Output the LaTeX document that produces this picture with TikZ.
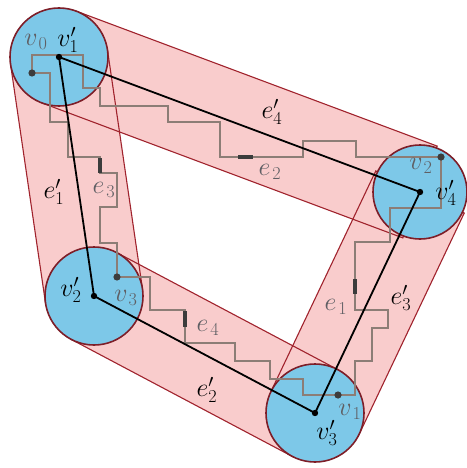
\RequirePackage{fix-cm}
\documentclass[tikz,border=0pt]{standalone}
\usetikzlibrary{calc}
\definecolor{bandfill}{RGB}{249,204,204}
\definecolor{bandline}{RGB}{160,35,45}
\definecolor{discfill}{RGB}{125,200,232}
\definecolor{discline}{RGB}{125,30,40}
\definecolor{stairc}{RGB}{140,125,118}
\definecolor{barc}{RGB}{60,60,60}
\definecolor{lblgray}{RGB}{95,95,100}
\tikzset{
  bandpath/.style={fill=bandfill,draw=none},
  bandedge/.style={draw=bandline,line width=1.1pt},
  disc/.style={fill=discfill,draw=discline,line width=1.6pt},
  stair/.style={draw=stairc,line width=1.1pt},
  markbar/.style={draw=barc,line width=3.6pt},
  edgeline/.style={draw=black,line width=1.8pt},
  bdot/.style={fill=black},
  gdot/.style={fill=barc},
  lblp/.style={font=\fontsize{26}{30}\selectfont,text=black,inner sep=0pt},
  lblg/.style={font=\fontsize{26}{30}\selectfont,text=lblgray,inner sep=0pt}
}
\newcommand{\bandrect}[3]{($(#1)!#3!90:(#2)$) -- ($(#2)!#3!-90:(#1)$) -- ($(#2)!#3!90:(#1)$) -- ($(#1)!#3!-90:(#2)$) -- cycle}
\begin{document}
\begin{tikzpicture}[x=1pt,y=-1pt]
\useasboundingbox (0,0) rectangle (466,468);
% black vertices (centres of discs)
\coordinate (A) at (59,57);
\coordinate (B) at (420,192);
\coordinate (C) at (315,413);
\coordinate (D) at (94,296);
% gray vertices
\coordinate (w0) at (32,73);
\coordinate (w2) at (441,157);
\coordinate (w1) at (338,395);
\coordinate (w3) at (117,277);
% bands
\path[bandpath] \bandrect{A}{B}{49pt};
\path[bandpath] \bandrect{B}{C}{49pt};
\path[bandpath] \bandrect{C}{D}{49pt};
\path[bandpath] \bandrect{D}{A}{49pt};
\path[bandedge] \bandrect{A}{B}{49pt};
\path[bandedge] \bandrect{B}{C}{49pt};
\path[bandedge] \bandrect{C}{D}{49pt};
\path[bandedge] \bandrect{D}{A}{49pt};
% discs
\path[disc] (A) circle[radius=49pt];
\path[disc] (B) circle[radius=47pt];
\path[disc] (C) circle[radius=49pt];
\path[disc] (D) circle[radius=49pt];
% staircase edges
\draw[stair] (w0) |- (83,55) |- (100,88) |- (168,106) |- (220,122) |- (303,157) |- (356,141) |- (w2);
\draw[stair] (w0) -| (50,122) -| (68,157) -| (100,173) -| (117,207) -| (100,243) -| (w3);
\draw[stair] (w3) -| (150,310) -| (185,343) -| (235,361) -| (270,379) -| (303,395) -- (w1);
\draw[stair] (w2) |- (390,208) |- (355,242) |- (388,310) |- (372,328) |- (355,361) |- (w1);
% marker bars
\draw[markbar] (238,157) -- (253,157);
\draw[markbar] (100,158) -- (100,173);
\draw[markbar] (185,311) -- (185,327);
\draw[markbar] (355,279) -- (355,294);
% black cycle
\draw[edgeline] (A) -- (B) -- (C) -- (D) -- cycle;
% dots
\foreach \p in {A,B,C,D} \fill[bdot] (\p) circle[radius=3.2pt];
\foreach \p in {w0,w1,w2,w3} \fill[gdot] (\p) circle[radius=3.6pt];
% labels
\node[lblg] (lv0) at (36,42) {$v_{\mkern2mu 0}$};
\node[lblp] (lv1p) at (68,40) {$v'_1$};
\node[lblp] (le4p) at (272,112) {$e'_4$};
\node[lblg] (le2) at (270,172) {$e_{\mkern2mu 2}$};
\node[lblg] (lv2) at (421,166) {$v_{\mkern2mu 2}$};
\node[lblp] (lv4p) at (446,193) {$v'_4$};
\node[lblp] (le1p) at (54,192) {$e'_1$};
\node[lblg] (le3) at (104,190) {$e_{\mkern2mu 3}$};
\node[lblp] (lv2p) at (71,290) {$v'_2$};
\node[lblg] (lv3) at (126,298) {$v_{\mkern2mu 3}$};
\node[lblg] (le4) at (208,328) {$e_{\mkern2mu 4}$};
\node[lblp] (le2p) at (207,390) {$e'_2$};
\node[lblg] (le1) at (336,307) {$e_{\mkern2mu 1}$};
\node[lblp] (le3p) at (401,298) {$e'_3$};
\node[lblg] (lv1) at (350,412) {$v_{\mkern2mu 1}$};
\node[lblp] (lv3p) at (327,433) {$v'_3$};
\end{tikzpicture}
\end{document}
